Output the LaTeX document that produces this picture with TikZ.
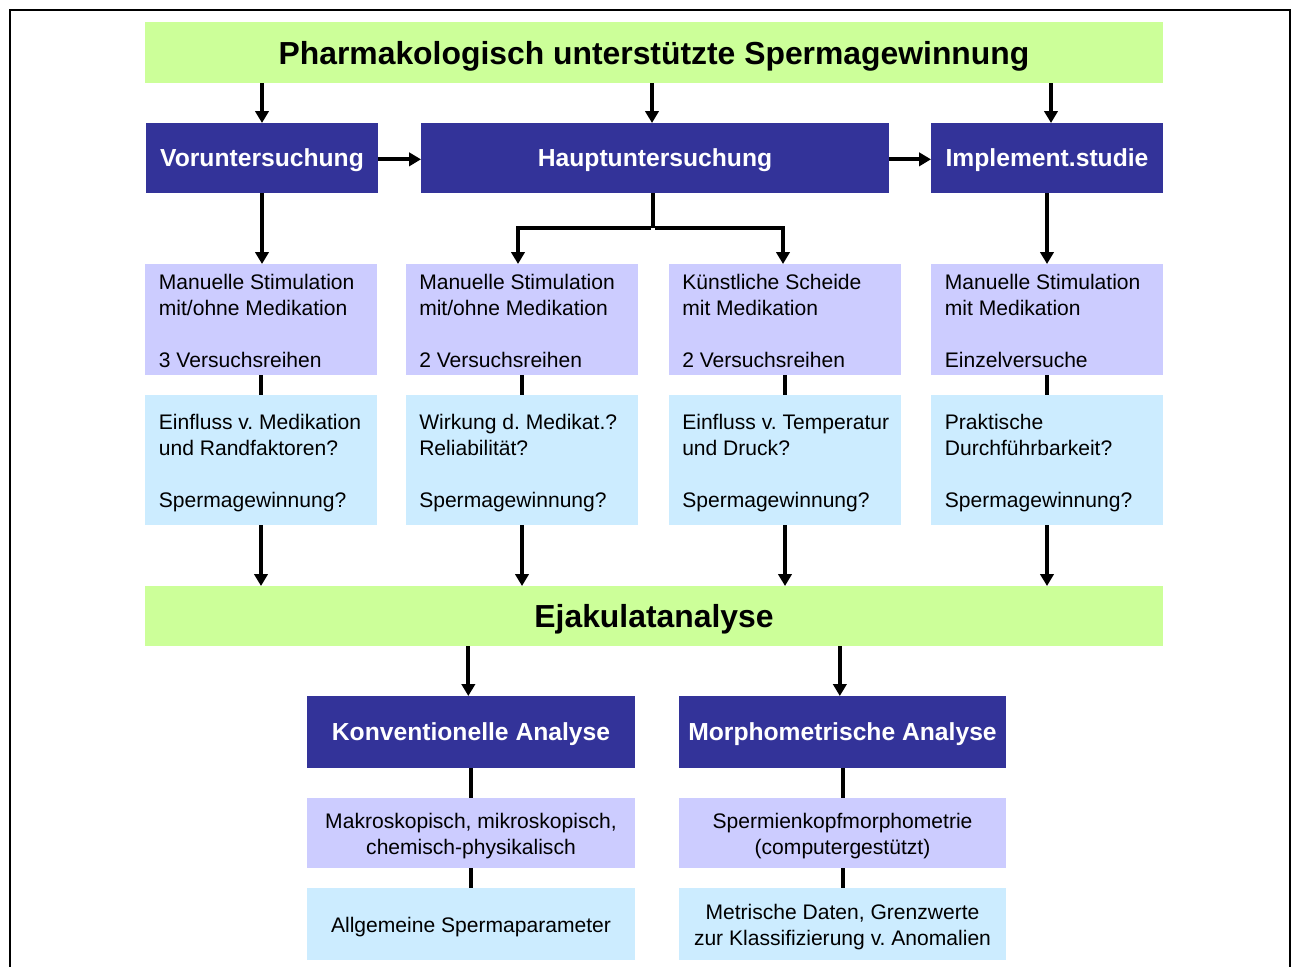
\documentclass[tikz,border=0pt]{standalone}
\usepackage{fontspec}
\setmainfont{Liberation Sans}
\usetikzlibrary{arrows.meta}
\definecolor{cgreen}{HTML}{CCFF99}
\definecolor{cblue}{HTML}{333399}
\definecolor{cpurple}{HTML}{CCCCFF}
\definecolor{clight}{HTML}{CCECFF}
\frenchspacing
\begin{document}
\begin{tikzpicture}[x=0.75pt,y=-0.75pt,
  box/.style={inner sep=0pt, outer sep=0pt, anchor=north west, draw=none},
  greenbox/.style={box, fill=cgreen, minimum width=763.5pt, minimum height=45pt,
    text depth=0pt, font=\bfseries\fontsize{23.9pt}{28pt}\selectfont},
  bluebox/.style={box, fill=cblue, text=white, minimum height=52.5pt,
    text depth=0pt, font=\bfseries\fontsize{18.5pt}{22pt}\selectfont},
  pbox/.style={box, fill=cpurple, minimum width=174pt, minimum height=83.25pt},
  lbox/.style={box, fill=clight, minimum width=174pt, minimum height=97.5pt},
  pbox2/.style={box, fill=cpurple, minimum height=52.5pt},
  lbox2/.style={box, fill=clight, minimum height=54pt},
  ctxt/.style={inner sep=0pt, align=center,
    font=\fontsize{15.8pt}{19.5pt}\selectfont},
  txt/.style={anchor=west, inner sep=0pt, align=left,
    font=\fontsize{15.8pt}{19.5pt}\selectfont},
  arr/.style={line width=3pt, -{Triangle[width=10pt,length=9pt]}},
  conn/.style={line width=3pt}
]
\useasboundingbox (0,0) rectangle (1296,967);
% outer frame
\draw[line width=1.5pt] (10,980) -- (10,10) -- (1290,10) -- (1290,980);

% title
\node[greenbox, minimum height=45.75pt] (title) at (145,22) {Pharmakologisch unterstützte Spermagewinnung};

% blue row
\node[bluebox, minimum width=174pt] (vor) at (146,123) {Voruntersuchung};
\node[bluebox, minimum width=351pt] (haupt) at (421,123) {Hauptuntersuchung};
\node[bluebox, minimum width=174pt] (impl) at (931,123) {Implement.studie};

% purple row
\node[pbox] (p1) at (145,264) {};
\node[pbox] (p2) at (406,264) {};
\node[pbox] (p3) at (669,264) {};
\node[pbox] (p4) at (931,264) {};
\node[txt] (p1t) at ([xshift=10.2pt,yshift=-0.8pt]p1.west) {Manuelle Stimulation\\mit/ohne Medikation\\[19.5pt]3 Versuchsreihen};
\node[txt] (p2t) at ([xshift=9.75pt,yshift=-0.8pt]p2.west) {Manuelle Stimulation\\mit/ohne Medikation\\[19.5pt]2 Versuchsreihen};
\node[txt] (p3t) at ([xshift=9.75pt,yshift=-0.8pt]p3.west) {Künstliche Scheide\\mit Medikation\\[19.5pt]2 Versuchsreihen};
\node[txt] (p4t) at ([xshift=10.2pt,yshift=-0.8pt]p4.west) {Manuelle Stimulation\\mit Medikation\\[19.5pt]Einzelversuche};

% light blue row
\node[lbox] (l1) at (145,395) {};
\node[lbox] (l2) at (406,395) {};
\node[lbox] (l3) at (669,395) {};
\node[lbox] (l4) at (931,395) {};
\node[txt] (l1t) at ([xshift=10.2pt,yshift=-2.4pt]l1.west) {Einfluss v. Medikation\\und Randfaktoren?\\[19.5pt]Spermagewinnung?};
\node[txt] (l2t) at ([xshift=9.75pt,yshift=-2.4pt]l2.west) {Wirkung d. Medikat.?\\Reliabilität?\\[19.5pt]Spermagewinnung?};
\node[txt] (l3t) at ([xshift=9.75pt,yshift=-2.4pt]l3.west) {Einfluss v. Temperatur\\und Druck?\\[19.5pt]Spermagewinnung?};
\node[txt] (l4t) at ([xshift=10.2pt,yshift=-2.4pt]l4.west) {Praktische\\Durchführbarkeit?\\[19.5pt]Spermagewinnung?};

% Ejakulatanalyse
\node[greenbox] (ej) at (145,586) {Ejakulatanalyse};

% lower part
\node[bluebox, minimum width=246pt, minimum height=54pt] (konv) at (307,696) {Konventionelle Analyse};
\node[bluebox, minimum width=245.25pt, minimum height=54pt] (morph) at (679,696) {Morphometrische Analyse};
\node[pbox2, minimum width=246pt] (kp) at (307,798) {};
\node[pbox2, minimum width=245.25pt] (mp) at (679,798) {};
\node[lbox2, minimum width=246pt] (kl) at (307,888) {};
\node[lbox2, minimum width=245.25pt] (ml) at (679,888) {};
\node[ctxt] (kpt) at ([yshift=-2pt]kp.center) {Makroskopisch, mikroskopisch,\\chemisch-physikalisch};
\node[ctxt] (mpt) at ([yshift=-2pt]mp.center) {Spermienkopfmorphometrie\\(computergestützt)};
\node[ctxt, text depth=0pt] (klt) at ([yshift=-1pt]kl.center) {Allgemeine Spermaparameter};
\node[ctxt] (mlt) at ([yshift=-2pt]ml.center) {Metrische Daten, Grenzwerte\\zur Klassifizierung v. Anomalien};

% arrows from title
\draw[arr] (title.south -| vor.north) -- (vor.north);
\draw[arr] ([xshift=-1.5pt]title.south) -- ([xshift=-1.5pt]title.south |- haupt.north);
\draw[arr] ([xshift=3pt]title.south -| impl.north) -- ([xshift=3pt]impl.north);

% horizontal arrows
\draw[arr] ([yshift=-1pt]vor.east) -- ([yshift=-1pt]vor.east -| haupt.west);
\draw[arr] ([yshift=-1pt]haupt.east) -- ([yshift=-1pt]haupt.east -| impl.west);

% down to purple
\coordinate (split) at (653,228);
\draw[conn] (haupt.south -| split) -- (split);
\draw[arr] ([xshift=-1.5pt]split) -| ([xshift=-3pt]p2.north);
\draw[arr] ([xshift=1.5pt]split) -| ([xshift=-1.5pt]p3.north);
\draw[arr] (vor.south) -- (vor.south |- p1.north);
\draw[arr] (impl.south) -- (p4.north);

% purple to light blue
\draw[conn] (p1.south) -- (l1.north);
\draw[conn] (p2.south) -- (l2.north);
\draw[conn] (p3.south) -- (l3.north);
\draw[conn] (p4.south) -- (l4.north);

% light blue to Ejakulatanalyse
\draw[arr] (l1.south) -- (l1.south |- ej.north);
\draw[arr] (l2.south) -- (l2.south |- ej.north);
\draw[arr] (l3.south) -- (l3.south |- ej.north);
\draw[arr] (l4.south) -- (l4.south |- ej.north);

% Ejakulatanalyse to lower
\draw[arr] ([xshift=-2pt]konv.north |- ej.south) -- ([xshift=-2pt]konv.north);
\draw[arr] ([xshift=-2pt]morph.north |- ej.south) -- ([xshift=-2pt]morph.north);
\draw[conn] (konv.south) -- (kp.north);
\draw[conn] (kp.south) -- (kl.north);
\draw[conn] (morph.south) -- (mp.north);
\draw[conn] (mp.south) -- (ml.north);
\end{tikzpicture}
\end{document}
